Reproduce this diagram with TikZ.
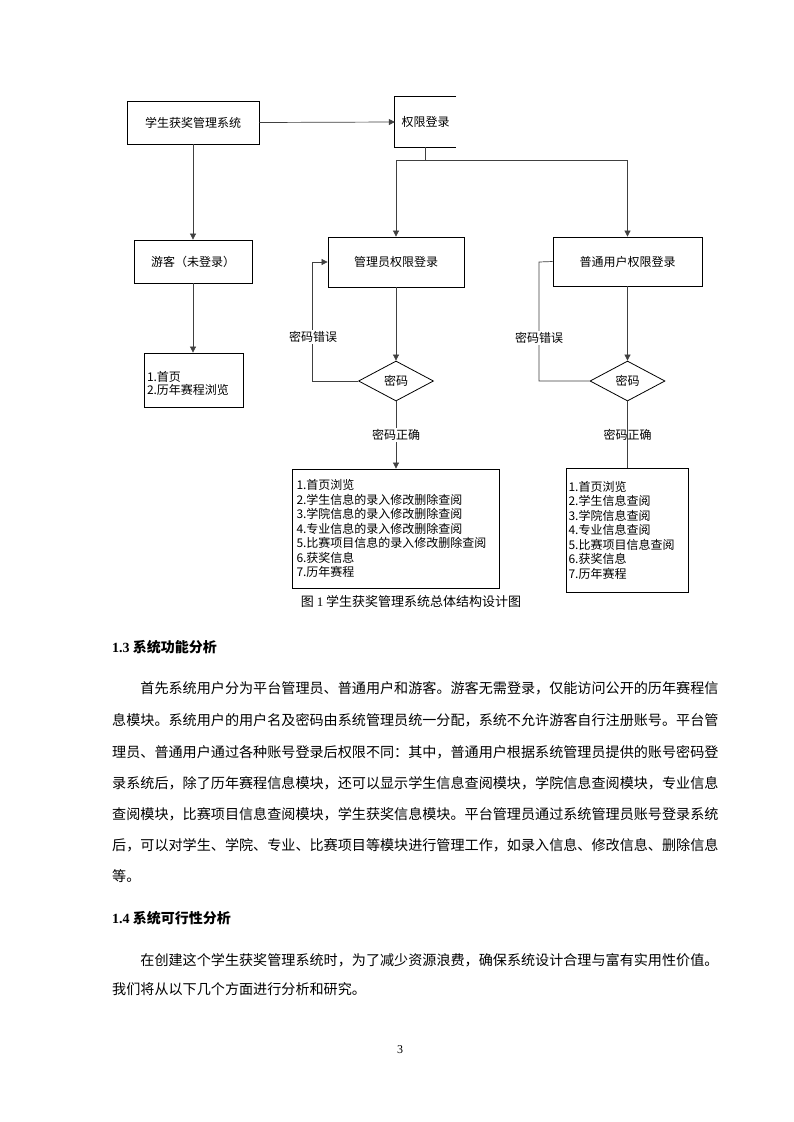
\documentclass[tikz,border=0pt]{standalone}
\usepackage{fontspec}
\setmainfont{Noto Sans CJK SC}
\newfontfamily\lat{Liberation Serif}
\usetikzlibrary{shapes.geometric,arrows.meta}
\begin{document}
\begin{tikzpicture}[x=1pt,y=-1pt,
  boxline/.style={draw=black, line width=0.8pt},
  box/.style={boxline, fill=white, inner sep=0pt, font=\fontsize{12}{14.5}\selectfont},
  conn/.style={draw=black!75, line width=0.7pt},
  arr/.style={conn, -{Triangle[length=6pt,width=6pt]}},
  lbl/.style={font=\fontsize{12}{14}\selectfont, inner sep=1pt},
  dia/.style={diamond, boxline, fill=white, minimum width=75pt, minimum height=40pt, inner sep=0pt, aspect=1.875, font=\fontsize{12}{14}\selectfont},
  listbox/.style={box, align=left, font=\fontsize{12}{14.5}\selectfont},
  body/.style={anchor=west, inner sep=0pt, font=\fontsize{14.1}{14.1}\selectfont},
  head/.style={anchor=west, inner sep=0pt, font=\fontsize{14}{14}\selectfont\bfseries}
]
\useasboundingbox (0,0) rectangle (793,1122);
\fill[white] (0,0) rectangle (793,1122);

% top row
\node[box, minimum width=132pt, minimum height=43pt] (sys) at (193,122.5) {学生获奖管理系统};
\node[inner sep=0pt, minimum width=61pt, minimum height=50pt, font=\fontsize{12}{14}\selectfont] (auth) at (425.5,122) {权限登录};
\draw[boxline] (auth.north east) -- (auth.north west) -- (auth.south west) -- (auth.south east);
\draw[arr] (sys.east) -- (auth.west);

% guest branch
\node[box, minimum width=118pt, minimum height=43pt] (guest) at (193,261.5) {游客（未登录）};
\draw[arr] (sys.south) -- (guest.north);
\node[listbox, text width=93pt, inner xsep=3pt, minimum height=54pt, font=\fontsize{12}{13}\selectfont] (glist) at (193.5,380) {\rule{0pt}{17pt}1.首页\\2.历年赛程浏览};
\draw[arr] (guest.south) -- (guest.south |- glist.north);

% split
\coordinate (j) at (425.5,160);
\draw[conn] (auth.south) -- (j);
\node[box, minimum width=136pt, minimum height=50pt] (admin) at (396,262) {管理员权限登录};
\node[box, minimum width=149pt, minimum height=49pt] (user) at (627.5,261.5) {普通用户权限登录};
\draw[arr] (j) -| (admin.north);
\draw[arr] (j) -| (user.north);

% diamonds
\node[dia] (adia) at (396,381) {密码};
\node[dia] (udia) at (627.5,381) {密码};
\draw[arr] (admin.south) -- (adia.north);
\draw[arr] (user.south) -- (udia.north);

% loops
\coordinate (aL) at (312,381);
\coordinate (uL) at (539,262);
\draw[arr] (adia.west) -- (aL) |- (admin.west);
\draw[conn] (user.west) -- (uL) |- (udia.west);
\node[lbl, fill=white] (aerr) at (313,337) {密码错误};
\node[lbl, fill=white] (uerr) at (539,338) {密码错误};

% lists
\node[listbox, text width=199pt, inner xsep=4pt, minimum height=119pt] (alist) at (396,528.5) {1.首页浏览\\2.学生信息的录入修改删除查阅\\3.学院信息的录入修改删除查阅\\4.专业信息的录入修改删除查阅\\5.比赛项目信息的录入修改删除查阅\\6.获奖信息\\7.历年赛程};
\node[listbox, text width=118pt, inner xsep=2pt, minimum height=124pt] (ulist) at (627.5,530) {1.首页浏览\\2.学生信息查阅\\3.学院信息查阅\\4.专业信息查阅\\5.比赛项目信息查阅\\6.获奖信息\\7.历年赛程};
\draw[arr] (adia.south) -- (alist.north);
\draw[conn] (udia.south) -- (udia.south |- ulist.north);
\node[lbl, fill=white] (aok) at (396,435) {密码正确};
\node[lbl] (uok) at (627.5,435) {密码正确};

% caption
\node[inner sep=0pt, font=\fontsize{13}{13}\selectfont] (cap) at (411,602) {图 {\lat 1} 学生获奖管理系统总体结构设计图};

% section 1.3
\node[head] (h13) at (112,647) {{\lat\bfseries 1.3} 系统功能分析};
\node[body] (p1) at (112,688) {\hspace*{2em}首先系统用户分为平台管理员、普通用户和游客。游客无需登录，仅能访问公开的历年赛程信};
\node[body] (p2) at (112,720) {息模块。系统用户的用户名及密码由系统管理员统一分配，系统不允许游客自行注册账号。平台管};
\node[body] (p3) at (112,752) {理员、普通用户通过各种账号登录后权限不同：其中，普通用户根据系统管理员提供的账号密码登};
\node[body] (p4) at (112,783) {录系统后，除了历年赛程信息模块，还可以显示学生信息查阅模块，学院信息查阅模块，专业信息};
\node[body] (p5) at (112,814) {查阅模块，比赛项目信息查阅模块，学生获奖信息模块。平台管理员通过系统管理员账号登录系统};
\node[body] (p6) at (112,845) {后，可以对学生、学院、专业、比赛项目等模块进行管理工作，如录入信息、修改信息、删除信息};
\node[body] (p7) at (112,876) {等。};

% section 1.4
\node[head] (h14) at (112,918) {{\lat\bfseries 1.4} 系统可行性分析};
\node[body] (q1) at (112,960) {\hspace*{2em}在创建这个学生获奖管理系统时，为了减少资源浪费，确保系统设计合理与富有实用性价值。};
\node[body] (q2) at (112,989) {我们将从以下几个方面进行分析和研究。};

\node[inner sep=0pt, font=\lat\fontsize{12}{12}\selectfont] (pg) at (400,1050) {3};
\end{tikzpicture}
\end{document}
